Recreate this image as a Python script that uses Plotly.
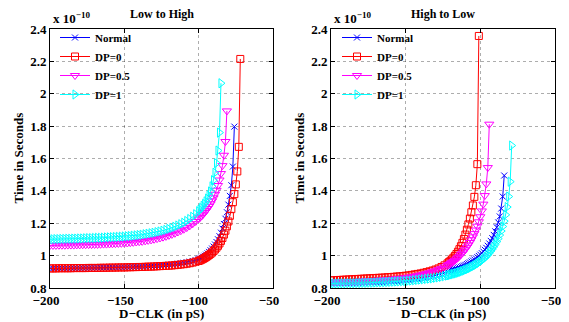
import plotly.graph_objects as go

# ---------------- Low to High (left panel), values in units of 1e-10 s ----------------
LH_FAR_X = list(range(-200, -99, 2))          # -200 .. -100 step 2
LH_NEAR_START = -99

lh_normal_far = [0.921, 0.921, 0.922, 0.922, 0.922, 0.922, 0.922, 0.923, 0.923, 0.923,
                 0.923, 0.924, 0.924, 0.924, 0.925, 0.925, 0.925, 0.926, 0.926, 0.926,
                 0.927, 0.927, 0.928, 0.928, 0.929, 0.929, 0.930, 0.930, 0.931, 0.932,
                 0.932, 0.933, 0.934, 0.935, 0.936, 0.937, 0.938, 0.939, 0.941, 0.942,
                 0.944, 0.946, 0.948, 0.950, 0.953, 0.956, 0.959, 0.963, 0.967, 0.972,
                 0.978]
lh_normal_near = [0.982, 0.987, 0.993, 0.999, 1.006, 1.014, 1.023, 1.033, 1.044, 1.056,
                  1.069, 1.084, 1.101, 1.120, 1.142, 1.167, 1.195, 1.228, 1.268, 1.315,
                  1.369, 1.435, 1.550, 1.797]

lh_dp0_far = [0.921, 0.921, 0.921, 0.922, 0.922, 0.922, 0.922, 0.922, 0.923, 0.923,
              0.923, 0.923, 0.923, 0.924, 0.924, 0.924, 0.924, 0.925, 0.925, 0.925,
              0.926, 0.926, 0.926, 0.927, 0.927, 0.927, 0.928, 0.928, 0.929, 0.929,
              0.930, 0.930, 0.931, 0.932, 0.932, 0.933, 0.934, 0.935, 0.936, 0.937,
              0.938, 0.939, 0.941, 0.943, 0.945, 0.947, 0.950, 0.953, 0.957, 0.962,
              0.967]
lh_dp0_near = [0.971, 0.975, 0.980, 0.985, 0.991, 0.997, 1.004, 1.011, 1.019, 1.028,
               1.038, 1.049, 1.061, 1.075, 1.091, 1.109, 1.130, 1.154, 1.181, 1.211,
               1.246, 1.287, 1.330, 1.380, 1.440, 1.520, 1.672, 2.215]

lh_dp05_far = [1.063, 1.063, 1.063, 1.064, 1.064, 1.064, 1.065, 1.065, 1.065, 1.066,
               1.066, 1.067, 1.067, 1.068, 1.068, 1.069, 1.069, 1.070, 1.071, 1.071,
               1.072, 1.073, 1.074, 1.075, 1.076, 1.077, 1.078, 1.080, 1.082, 1.084,
               1.086, 1.088, 1.091, 1.094, 1.097, 1.101, 1.105, 1.109, 1.114, 1.119,
               1.125, 1.131, 1.138, 1.146, 1.154, 1.163, 1.173, 1.184, 1.197, 1.211,
               1.227]
lh_dp05_near = [1.236, 1.245, 1.255, 1.266, 1.278, 1.291, 1.305, 1.320, 1.338, 1.357,
                1.379, 1.404, 1.433, 1.467, 1.507, 1.556, 1.620, 1.705, 1.894]

lh_dp1_far = [1.101, 1.101, 1.102, 1.102, 1.103, 1.103, 1.104, 1.104, 1.105, 1.105,
              1.106, 1.106, 1.107, 1.108, 1.108, 1.109, 1.110, 1.110, 1.111, 1.112,
              1.113, 1.114, 1.115, 1.116, 1.117, 1.118, 1.120, 1.121, 1.123, 1.125,
              1.127, 1.129, 1.132, 1.135, 1.138, 1.141, 1.145, 1.149, 1.154, 1.159,
              1.165, 1.171, 1.178, 1.186, 1.194, 1.203, 1.214, 1.226, 1.240, 1.256,
              1.274]
lh_dp1_near = [1.284, 1.295, 1.307, 1.320, 1.335, 1.352, 1.372, 1.396, 1.428, 1.466,
               1.512, 1.571, 1.649, 1.760, 2.065]

# ---------------- High to Low (right panel) ----------------
HL_FAR_X = list(range(-200, -121, 2))         # -200 .. -122 step 2
HL_NEAR_START = -121

hl_normal_far = [0.829, 0.829, 0.830, 0.830, 0.831, 0.831, 0.832, 0.832, 0.833, 0.833,
                 0.834, 0.834, 0.835, 0.835, 0.836, 0.837, 0.838, 0.839, 0.840, 0.841,
                 0.842, 0.843, 0.845, 0.846, 0.848, 0.850, 0.852, 0.854, 0.856, 0.858,
                 0.861, 0.864, 0.867, 0.871, 0.875, 0.879, 0.884, 0.889, 0.895, 0.901]
hl_normal_near = [0.906, 0.909, 0.911, 0.914, 0.917, 0.920, 0.923, 0.927, 0.931, 0.935,
                  0.939, 0.943, 0.948, 0.953, 0.958, 0.964, 0.970, 0.976, 0.983, 0.990,
                  0.998, 1.006, 1.015, 1.025, 1.036, 1.048, 1.061, 1.075, 1.091, 1.108,
                  1.128, 1.150, 1.175, 1.205, 1.242, 1.291, 1.365, 1.495]

hl_dp0_far = [0.847, 0.848, 0.849, 0.850, 0.851, 0.852, 0.853, 0.854, 0.855, 0.856,
              0.857, 0.858, 0.859, 0.860, 0.861, 0.862, 0.863, 0.864, 0.865, 0.867,
              0.868, 0.869, 0.871, 0.872, 0.874, 0.876, 0.878, 0.881, 0.884, 0.887,
              0.890, 0.894, 0.898, 0.903, 0.908, 0.914, 0.921, 0.930, 0.940, 0.952]
hl_dp0_near = [0.960, 0.968, 0.977, 0.987, 0.998, 1.010, 1.024, 1.040, 1.058, 1.079,
               1.103, 1.130, 1.160, 1.193, 1.229, 1.268, 1.310, 1.363, 1.435, 1.565,
               2.357]

hl_dp05_far = [0.836, 0.836, 0.837, 0.837, 0.838, 0.838, 0.839, 0.840, 0.840, 0.841,
               0.842, 0.843, 0.844, 0.845, 0.846, 0.847, 0.848, 0.849, 0.850, 0.852,
               0.853, 0.855, 0.857, 0.859, 0.861, 0.863, 0.866, 0.869, 0.872, 0.876,
               0.880, 0.884, 0.889, 0.894, 0.900, 0.906, 0.913, 0.921, 0.930, 0.940]
hl_dp05_near = [0.945, 0.951, 0.957, 0.964, 0.971, 0.979, 0.987, 0.996, 1.006, 1.016,
                1.027, 1.039, 1.052, 1.066, 1.081, 1.098, 1.116, 1.136, 1.158, 1.182,
                1.209, 1.240, 1.276, 1.318, 1.371, 1.443, 1.544, 1.812]

hl_dp1_far = [0.828, 0.828, 0.828, 0.829, 0.829, 0.829, 0.830, 0.830, 0.830, 0.831,
              0.831, 0.832, 0.832, 0.833, 0.833, 0.834, 0.835, 0.835, 0.836, 0.837,
              0.838, 0.839, 0.840, 0.841, 0.842, 0.843, 0.845, 0.846, 0.848, 0.850,
              0.852, 0.854, 0.856, 0.858, 0.860, 0.863, 0.866, 0.869, 0.873, 0.877]
hl_dp1_near = [0.879, 0.881, 0.884, 0.886, 0.889, 0.891, 0.894, 0.897, 0.900, 0.904,
               0.907, 0.911, 0.915, 0.919, 0.923, 0.928, 0.933, 0.938, 0.943, 0.949,
               0.955, 0.962, 0.969, 0.977, 0.985, 0.994, 1.004, 1.015, 1.027, 1.040,
               1.054, 1.069, 1.086, 1.105, 1.127, 1.152, 1.180, 1.213, 1.252, 1.300,
               1.365, 1.457, 1.680]

SERIES_NAMES = ["Normal", "DP=0", "DP=0.5", "DP=1"]
X_TICKS = [-200, -150, -100, -50]
Y_TICKS = [0.8, 1, 1.2, 1.4, 1.6, 1.8, 2, 2.2, 2.4]


def build(far_x, near_start, far_vals, near_vals):
    xs = list(far_x) + list(range(near_start, near_start + len(near_vals)))
    ys = list(far_vals) + list(near_vals)
    assert len(far_x) == len(far_vals)
    return xs, ys


STYLES = [
    dict(color="#0000FF", symbol="x-thin-open", size=6),
    dict(color="#FF0000", symbol="square-open", size=7),
    dict(color="#FF00FF", symbol="triangle-down-open", size=8),
    dict(color="#00FFFF", symbol="triangle-right-open", size=8),
]

FONT = "Liberation Serif"

fig = go.Figure()

panels = [
    ("x", "y", "legend", LH_FAR_X, LH_NEAR_START,
     [(lh_normal_far, lh_normal_near), (lh_dp0_far, lh_dp0_near),
      (lh_dp05_far, lh_dp05_near), (lh_dp1_far, lh_dp1_near)]),
    ("x2", "y2", "legend2", HL_FAR_X, HL_NEAR_START,
     [(hl_normal_far, hl_normal_near), (hl_dp0_far, hl_dp0_near),
      (hl_dp05_far, hl_dp05_near), (hl_dp1_far, hl_dp1_near)]),
]

for xa, ya, leg, fx, ns, data in panels:
    for name, st, (fv, nv) in zip(SERIES_NAMES, STYLES, data):
        xs, ys = build(fx, ns, fv, nv)
        fig.add_trace(go.Scatter(
            x=xs, y=ys, name=name, mode="lines+markers", xaxis=xa, yaxis=ya, legend=leg,
            line=dict(color=st["color"], width=1),
            marker=dict(symbol=st["symbol"], size=st["size"], color=st["color"],
                        line=dict(color=st["color"], width=1)),
        ))

# The page body adds an 8px margin, so lay out in a 561x314 frame shifted by 8px.
W, H = 561, 314
OFF = 8
def px_x(v):
    return (v - OFF) / W
def px_y(v):
    return 1 - (v - OFF) / H

Y_DOM = [px_y(288), px_y(29)]
X_DOM1 = [px_x(50), px_x(273)]
X_DOM2 = [px_x(331), px_x(555)]

tickfont = dict(family=FONT, size=13, color="black", weight="bold")
titlefont = dict(family=FONT, size=13, color="black", weight="bold")

common_x = dict(range=[-200, -50], tickvals=X_TICKS, showgrid=True, griddash="dot",
                gridcolor="rgba(0,0,0,0.32)", gridwidth=1, zeroline=False, showline=True,
                linecolor="black", linewidth=1, mirror="ticks", ticks="inside", ticklen=4,
                tickcolor="black", tickfont=tickfont, automargin=False, ticklabelshift=-4)
common_y = dict(range=[0.8, 2.4], tickvals=Y_TICKS, showgrid=True, griddash="dot",
                gridcolor="rgba(0,0,0,0.32)", gridwidth=1, zeroline=False, showline=True,
                linecolor="black", linewidth=1, mirror="ticks", ticks="inside", ticklen=4,
                tickcolor="black", tickfont=tickfont, domain=Y_DOM, automargin=False)

legend_common = dict(font=dict(family=FONT, size=11, color="black", weight="bold"),
                     bgcolor="rgba(255,255,255,0)", borderwidth=0, itemwidth=30,
                     xanchor="left", yanchor="top", tracegroupgap=0)

fig.update_layout(
    width=W, height=H, margin=dict(l=0, r=0, t=0, b=0, autoexpand=False),
    paper_bgcolor="white", plot_bgcolor="white",
    xaxis=dict(domain=X_DOM1, anchor="y", **common_x),
    yaxis=dict(anchor="x", **common_y),
    xaxis2=dict(domain=X_DOM2, anchor="y2", **common_x),
    yaxis2=dict(anchor="x2", **common_y),
    legend=dict(x=px_x(55), y=px_y(23), **legend_common),
    legend2=dict(x=px_x(337), y=px_y(23), **legend_common),
    showlegend=True,
)

for xd, title in [(X_DOM1, "Low to High"), (X_DOM2, "High to Low")]:
    xc = (xd[0] + xd[1]) / 2
    # panel title
    fig.add_annotation(text=title, xref="paper", yref="paper", x=xc, y=px_y(14),
                       showarrow=False, xanchor="center", yanchor="middle",
                       font=dict(family=FONT, size=12, color="black", weight="bold"))
    # x-axis title
    fig.add_annotation(text="D\u2212CLK (in pS)", xref="paper", yref="paper", x=xc,
                       y=px_y(313), showarrow=False, xanchor="center", yanchor="middle",
                       font=titlefont)
    # y-axis title
    fig.add_annotation(text="Time in Seconds", xref="paper", yref="paper",
                       x=xd[0] - 32 / W, y=(Y_DOM[0] + Y_DOM[1]) / 2, textangle=-90,
                       showarrow=False, xanchor="center", yanchor="middle", font=titlefont)
    # exponent label
    fig.add_annotation(text="x 10<sup>\u221210</sup>", xref="paper", yref="paper",
                       x=xd[0] + 1 / W, y=Y_DOM[1] + 1 / H, showarrow=False,
                       xanchor="left", yanchor="bottom",
                       font=dict(family=FONT, size=13, color="black", weight="bold"))

fig.write_html("out.html")
